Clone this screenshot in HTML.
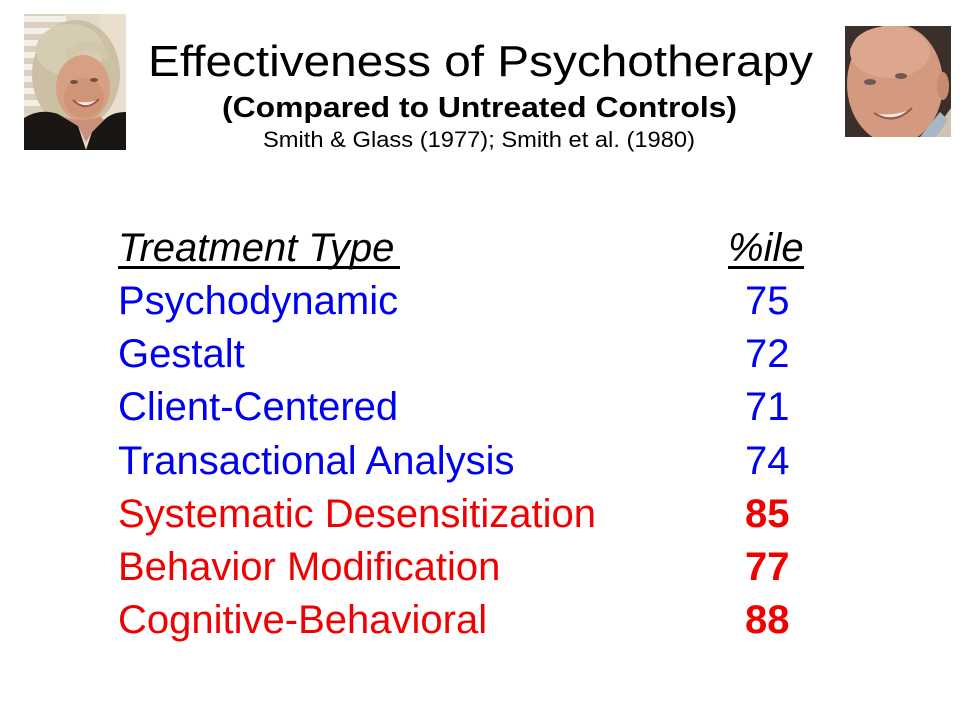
<!DOCTYPE html>
<html>
<head>
<meta charset="utf-8">
<style>
  html,body{margin:0;padding:0;background:#fff;}
  svg{display:block;}
  text{font-family:"Liberation Sans", Arial, sans-serif;}
</style>
</head>
<body>
<svg width="960" height="720" viewBox="0 0 960 720" xmlns="http://www.w3.org/2000/svg">
  <rect x="0" y="0" width="960" height="720" fill="#ffffff"/>
  <defs>
    <clipPath id="cw"><rect x="24" y="14" width="102" height="136"/></clipPath>
    <clipPath id="cm"><rect x="845" y="26" width="106" height="111"/></clipPath>
  </defs>

  <!-- Woman photo -->
  <g clip-path="url(#cw)">
    <rect x="24" y="14" width="102" height="136" fill="#e4d9c8"/>
    <rect x="24" y="14" width="40" height="100" fill="#d9d0c0"/>
    <g fill="#f3f0ea">
      <rect x="24" y="16" width="42" height="6"/>
      <rect x="24" y="28" width="42" height="6"/>
      <rect x="24" y="40" width="42" height="6"/>
      <rect x="24" y="52" width="42" height="6"/>
      <rect x="24" y="64" width="42" height="6"/>
      <rect x="24" y="76" width="42" height="6"/>
      <rect x="24" y="88" width="42" height="6"/>
      <rect x="24" y="100" width="42" height="6"/>
    </g>
    <rect x="100" y="14" width="26" height="136" fill="#eadfcf"/>
    <ellipse cx="76" cy="74" rx="44" ry="54" fill="#cbc0a4"/>
    <ellipse cx="70" cy="50" rx="34" ry="26" fill="#d6ccb2"/>
    <ellipse cx="83" cy="88" rx="27" ry="33" fill="#d7a083"/>
    <ellipse cx="84" cy="98" rx="20" ry="20" fill="#cf9577"/>
    <path d="M68 60 Q90 40 108 62 L108 52 Q88 30 64 52 Z" fill="#d2c7ab"/>
    <ellipse cx="74" cy="82" rx="4" ry="2" fill="#6a5548"/>
    <ellipse cx="94" cy="80" rx="4" ry="2" fill="#6a5548"/>
    <path d="M74 101 Q86 110 98 100 Q86 104 74 101 Z" fill="#f2ece6"/>
    <path d="M73 100 Q86 113 99 99" stroke="#a5524a" stroke-width="2" fill="none"/>
    <path d="M24 150 L24 118 Q40 108 58 114 L78 126 L86 150 Z" fill="#1a1614"/>
    <path d="M126 150 L126 112 Q112 112 104 120 L92 132 L86 150 Z" fill="#1a1614"/>
    <path d="M62 116 L78 126 L86 142 L92 132 L104 120 L100 116 Q84 124 62 116 Z" fill="#c9907a"/>
  </g>

  <!-- Man photo -->
  <g clip-path="url(#cm)">
    <rect x="845" y="26" width="106" height="111" fill="#3a2f2b"/>
    <ellipse cx="895" cy="84" rx="48" ry="60" fill="#d39a7f"/>
    <ellipse cx="890" cy="52" rx="40" ry="26" fill="#dca78c"/>
    <ellipse cx="943" cy="86" rx="6" ry="14" fill="#c98b70"/>
    <path d="M845 26 L870 26 Q852 36 847 60 L845 60 Z" fill="#3a2f2b"/>
    <path d="M951 26 L922 26 Q940 34 946 56 L951 60 Z" fill="#3a2f2b"/>
    <ellipse cx="870" cy="82" rx="6" ry="3" fill="#6e5a54"/>
    <ellipse cx="901" cy="76" rx="6" ry="3" fill="#6e5a54"/>
    <path d="M876 114 Q894 122 910 110 Q894 116 876 114 Z" fill="#f4eee8"/>
    <path d="M874 113 Q894 126 912 108" stroke="#9a5a4a" stroke-width="2" fill="none"/>
    <path d="M930 137 L951 108 L951 137 Z" fill="#cfc4b0"/>
    <path d="M920 137 L940 112 L948 120 L936 137 Z" fill="#a9b6c4"/>
  </g>

  <!-- Titles -->
  <text x="148" y="76" font-size="44" fill="#000" textLength="665" lengthAdjust="spacingAndGlyphs">Effectiveness of Psychotherapy</text>
  <text x="222" y="117" font-size="29" font-weight="bold" fill="#000" textLength="515" lengthAdjust="spacingAndGlyphs">(Compared to Untreated Controls)</text>
  <text x="263" y="147" font-size="22" fill="#000" textLength="432" lengthAdjust="spacingAndGlyphs">Smith &amp; Glass (1977); Smith et al. (1980)</text>

  <!-- Header row -->
  <text x="118" y="261" font-size="40" font-style="italic" fill="#000">Treatment Type</text>
  <rect x="118" y="266" width="282" height="3" fill="#000"/>
  <text x="728" y="261" font-size="40" font-style="italic" fill="#000">%ile</text>
  <rect x="728" y="266" width="76" height="3" fill="#000"/>

  <!-- Blue rows -->
  <g font-size="40" fill="#0000f0">
    <text x="118" y="314">Psychodynamic</text>
    <text x="745" y="314">75</text>
    <text x="118" y="367">Gestalt</text>
    <text x="745" y="367">72</text>
    <text x="118" y="420">Client-Centered</text>
    <text x="745" y="420">71</text>
    <text x="118" y="474">Transactional Analysis</text>
    <text x="745" y="474">74</text>
  </g>

  <!-- Red rows -->
  <g font-size="40" fill="#f00000">
    <text x="118" y="527">Systematic Desensitization</text>
    <text x="745" y="527" font-weight="bold">85</text>
    <text x="118" y="580">Behavior Modification</text>
    <text x="745" y="580" font-weight="bold">77</text>
    <text x="118" y="633">Cognitive-Behavioral</text>
    <text x="745" y="633" font-weight="bold">88</text>
  </g>
</svg>
</body>
</html>
